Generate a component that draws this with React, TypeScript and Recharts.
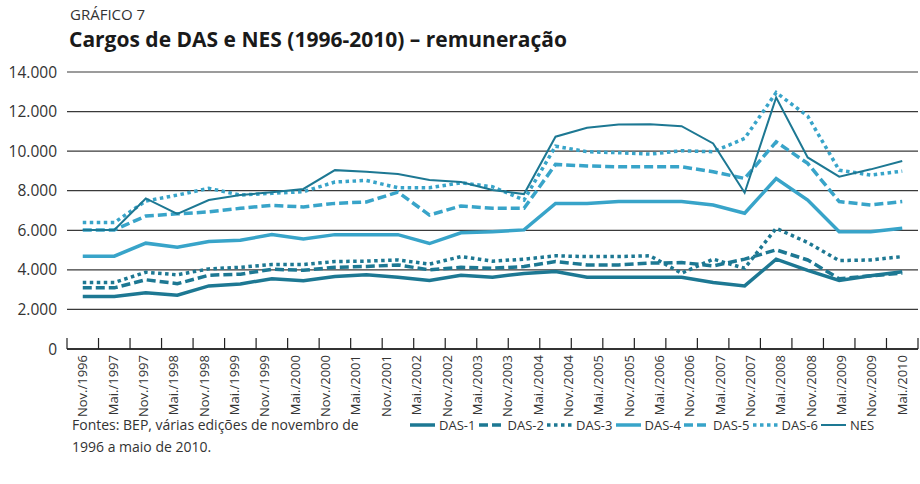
import React from 'react';
import {
  LineChart,
  Line,
  XAxis,
  YAxis,
  CartesianGrid,
  Legend,
} from 'recharts';

// tick labels under the axis (28 of them, as printed)
const labels = [
  'Nov./1996', 'Mai./1997', 'Nov./1997', 'Mai./1998', 'Nov./1998', 'Mai./1999', 'Nov./1999',
  'Mai./2000', 'Nov./2000', 'Mai./2001', 'Nov./2001', 'Mai./2002', 'Nov./2002', 'Mai./2003',
  'Nov./2003', 'Mai./2004', 'Nov./2004', 'Mai./2005', 'Nov./2005', 'Mai./2006', 'Nov./2006',
  'Mai./2007', 'Nov./2007', 'Mai./2008', 'Nov./2008', 'Mai./2009', 'Nov./2009', 'Mai./2010',
];

// series values (27 plotted points each)
const das1 = [2650, 2650, 2840, 2720, 3190, 3290, 3550, 3450, 3660, 3750, 3630, 3460, 3730, 3630, 3820, 3920, 3630, 3630, 3630, 3630, 3360, 3190, 4540, 3970, 3460, 3700, 3900];
const das2 = [3090, 3090, 3500, 3300, 3730, 3780, 4030, 3980, 4130, 4170, 4250, 4000, 4130, 4080, 4170, 4420, 4250, 4250, 4340, 4370, 4200, 4540, 5010, 4500, 3550, 3700, 3830];
const das3 = [3360, 3360, 3880, 3750, 4050, 4130, 4270, 4270, 4420, 4440, 4500, 4290, 4670, 4440, 4540, 4710, 4670, 4670, 4710, 3830, 4540, 4080, 6100, 5380, 4470, 4500, 4670];
const das4 = [4690, 4690, 5350, 5140, 5430, 5500, 5780, 5560, 5780, 5780, 5780, 5330, 5870, 5930, 6020, 7360, 7360, 7450, 7450, 7450, 7280, 6860, 8610, 7530, 5930, 5930, 6100];
const das5 = [6020, 6020, 6720, 6830, 6930, 7110, 7260, 7180, 7360, 7430, 7930, 6770, 7230, 7110, 7110, 9330, 9250, 9210, 9210, 9210, 8960, 8620, 10470, 9380, 7450, 7280, 7450];
const das6 = [6390, 6390, 7480, 7780, 8120, 7780, 7870, 7950, 8440, 8520, 8150, 8150, 8400, 8200, 7530, 10250, 9970, 9920, 9850, 10020, 9970, 10640, 12960, 11770, 9040, 8790, 8990];
const nes = [6020, 6020, 7610, 6830, 7530, 7780, 7920, 8090, 9040, 8960, 8840, 8540, 8440, 8040, 7830, 10730, 11180, 11350, 11360, 11260, 10390, 7900, 12710, 9680, 8710, 9080, 9500];

const yTicks = [0, 2000, 4000, 6000, 8000, 10000, 12000, 14000];

const DARK = '#1d7893';
const LIGHT = '#38a4c9';
const FONT = "'Open Sans', 'Noto Sans', sans-serif";

const data = das1.map((v, i) => ({
  idx: i,
  das1: v,
  das2: das2[i],
  das3: das3[i],
  das4: das4[i],
  das5: das5[i],
  das6: das6[i],
  nes: nes[i],
}));

const n = data.length;
const xDomain = [-0.5, n - 0.5];
// tick marks sit between the points, labels are spread over the points
const boundaryTicks = Array.from({ length: n + 1 }, (_, i) => i - 0.5);
const labelTicks = labels.map((_, j) => (j * (n - 1)) / (labels.length - 1));

const formatThousands = (v: number) => String(v).replace(/\B(?=(\d{3})+(?!\d))/g, '.');

const series = [
  { key: 'das1', name: 'DAS-1', color: DARK, width: 3.5, dash: undefined },
  { key: 'das2', name: 'DAS-2', color: DARK, width: 3.5, dash: '9 4' },
  { key: 'das3', name: 'DAS-3', color: DARK, width: 3.5, dash: '3.5 3.5' },
  { key: 'das4', name: 'DAS-4', color: LIGHT, width: 3.5, dash: undefined },
  { key: 'das5', name: 'DAS-5', color: LIGHT, width: 3.5, dash: '9 4' },
  { key: 'das6', name: 'DAS-6', color: LIGHT, width: 3.5, dash: '3.5 3.5' },
  { key: 'nes', name: 'NES', color: DARK, width: 2, dash: undefined },
];

function UpTick({ x, y }: any) {
  return <line x1={x} y1={y - 11} x2={x} y2={y} stroke="#222" strokeWidth={1.2} />;
}

function LabelTick({ x, y, index }: any) {
  return (
    <text
      x={x}
      y={y}
      dy="0.35em"
      transform={`rotate(-90, ${x}, ${y})`}
      textAnchor="end"
      fontSize={13}
      fontFamily={FONT}
      fill="#333"
    >
      {labels[index]}
    </text>
  );
}

function LegendContent() {
  return (
    <div style={{ display: 'flex', fontFamily: FONT, fontSize: 13, color: '#333' }}>
      {series.map((s) => (
        <div key={s.key} style={{ width: 68.5, display: 'flex', alignItems: 'center' }}>
          <svg width={26} height={12}>
            <line x1={0} y1={6} x2={25} y2={6} stroke={s.color} strokeWidth={s.width} strokeDasharray={s.dash} />
          </svg>
          <span style={{ marginLeft: 3 }}>{s.name}</span>
        </div>
      ))}
    </div>
  );
}

export default function App() {
  return (
    <div style={{ position: 'relative', width: 920, height: 484, background: '#fff', fontFamily: FONT }}>
      <style>{'body { margin: 0; }'}</style>
      <div style={{ position: 'absolute', left: 70, top: 4, fontSize: 15, color: '#333' }}>GRÁFICO 7</div>
      <div style={{ position: 'absolute', left: 69, top: 25, fontSize: 21, fontWeight: 700, color: '#1a1a1a' }}>
        Cargos de DAS e NES (1996-2010) – remuneração
      </div>
      <LineChart width={920} height={484} data={data} margin={{ top: 72, right: 2, left: 0, bottom: 44 }}>
        <CartesianGrid vertical={false} stroke="#3a3a3a" strokeWidth={1.2} />
        <XAxis
          xAxisId="cat"
          type="number"
          dataKey="idx"
          domain={xDomain}
          ticks={boundaryTicks}
          interval={0}
          height={1}
          tickSize={0}
          tickMargin={0}
          tickLine={false}
          tick={<UpTick />}
          axisLine={{ stroke: '#111', strokeWidth: 1.4 }}
        />
        <XAxis
          xAxisId="lab"
          type="number"
          dataKey="idx"
          domain={xDomain}
          ticks={labelTicks}
          interval={0}
          height={70}
          tickSize={0}
          tickMargin={5}
          tickLine={false}
          axisLine={false}
          tick={<LabelTick />}
        />
        <YAxis
          domain={[0, 14000]}
          ticks={yTicks}
          width={67}
          axisLine={false}
          tickLine={false}
          tickMargin={4}
          tickFormatter={formatThousands}
          tick={{ fontSize: 15.5, fill: '#333', fontFamily: FONT }}
        />
        <Legend
          verticalAlign="bottom"
          align="right"
          content={<LegendContent />}
          wrapperStyle={{ top: 416, left: 410, width: 510, height: 20 }}
        />
        {series.map((s) => (
          <Line
            key={s.key}
            xAxisId="cat"
            type="linear"
            dataKey={s.key}
            name={s.name}
            stroke={s.color}
            strokeWidth={s.width}
            strokeDasharray={s.dash}
            dot={false}
            activeDot={false}
            isAnimationActive={false}
          />
        ))}
      </LineChart>
      <div style={{ position: 'absolute', left: 72, top: 414, fontSize: 14, lineHeight: '22px', color: '#333' }}>
        Fontes: BEP, várias edições de novembro de
        <br />
        1996 a maio de 2010.
      </div>
    </div>
  );
}
